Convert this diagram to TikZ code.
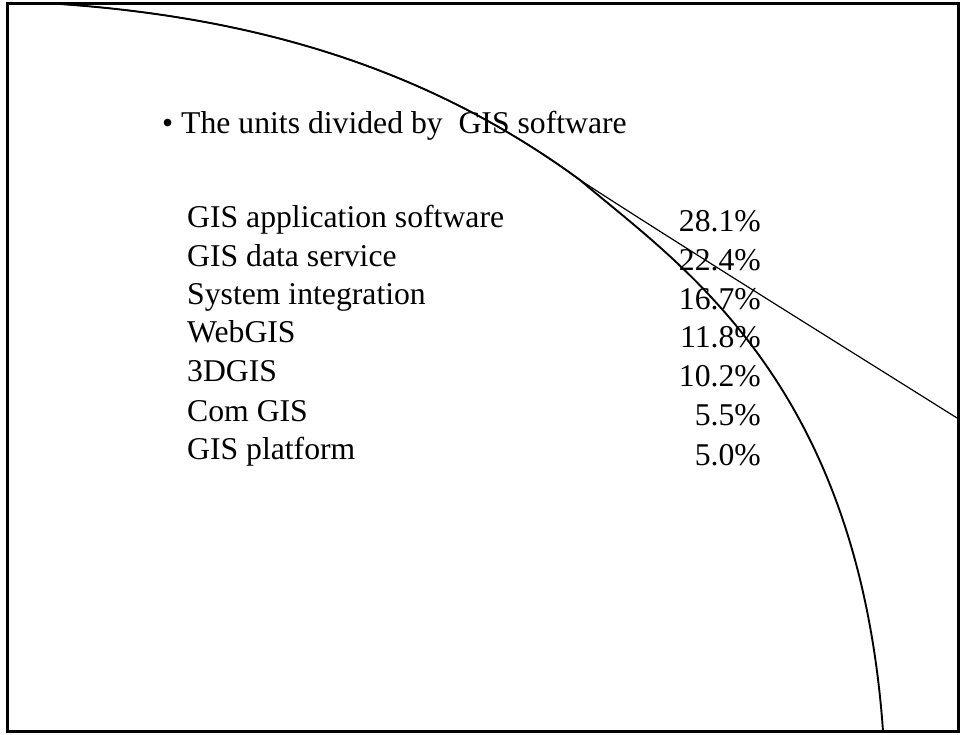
\documentclass[tikz,border=0pt]{standalone}
\usepackage{fontspec}
\setmainfont{Liberation Serif}
\begin{document}
\begin{tikzpicture}[x=1pt,y=-1pt,
  txt/.style={inner sep=0pt,font=\fontsize{31.7}{36}\selectfont},
  frame/.style={line width=3pt},
  arcA/.style={line width=1.9pt},
  arcB/.style={line width=1.2pt}]
\useasboundingbox (0,0) rectangle (962,735);
\draw[frame] (7,4) rectangle (958,731);
% curves
\coordinate (s) at (60,4);
\coordinate (m) at (580,180);
\coordinate (eA) at (883,731);
\coordinate (eB) at (957,418);
\draw[arcB] (s) .. controls (260,18) and (430,70) .. (m)
  .. controls (675,242) and (860,357) .. (eB);
\draw[arcA] (s) .. controls (260,18) and (430,70) .. (m)
  .. controls (680,265) and (858,381) .. (eA);
% title
\node[txt,anchor=base west] (title) at (162,134) {•\ The units divided by\ \ GIS software};
% items
\node[txt,anchor=base west] (l1) at (187,228) {GIS application software};
\node[txt,anchor=base west] (l2) at (187,267) {GIS data service};
\node[txt,anchor=base west] (l3) at (187,305) {System integration};
\node[txt,anchor=base west] (l4) at (187,343) {WebGIS};
\node[txt,anchor=base west] (l5) at (187,382) {3DGIS};
\node[txt,anchor=base west] (l6) at (187,421) {Com GIS};
\node[txt,anchor=base west] (l7) at (187,460) {GIS platform};
\node[txt,anchor=base east] (r1) at (761,232) {28.1\%};
\node[txt,anchor=base east] (r2) at (761,271) {22.4\%};
\node[txt,anchor=base east] (r3) at (761,310) {16.7\%};
\node[txt,anchor=base east] (r4) at (761,348) {11.8\%};
\node[txt,anchor=base east] (r5) at (761,387) {10.2\%};
\node[txt,anchor=base east] (r6) at (761,426) {5.5\%};
\node[txt,anchor=base east] (r7) at (761,465) {5.0\%};
\end{tikzpicture}
\end{document}
